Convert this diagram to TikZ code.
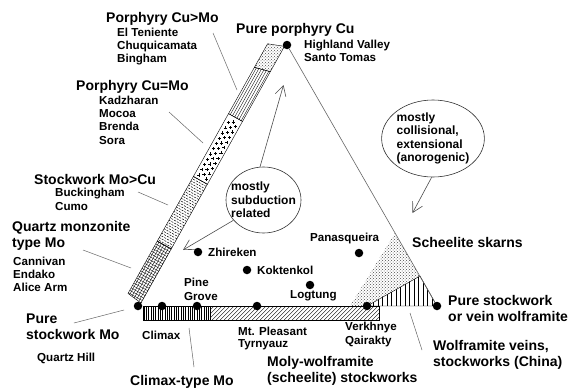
\documentclass[tikz,border=0pt]{standalone}
\usepackage{fontspec}
\setmainfont{Liberation Sans}
\usetikzlibrary{shapes.geometric,arrows.meta,patterns}

\tikzset{
  heading/.style={font=\fontsize{14}{15.5}\selectfont\bfseries,anchor=base west,inner sep=0pt,align=left},
  site/.style={font=\fontsize{11.6}{13.3}\selectfont\bfseries,anchor=base west,inner sep=0pt,align=left},
  deposit/.style={circle,fill=black,inner sep=0pt,minimum size=8.5pt},
  leader/.style={draw=black!60,line width=0.5pt},
  hint/.style={draw=black!70,line width=0.6pt,-{Straight Barb[length=10pt,width=11pt]}},
  bubble/.style={ellipse,draw=black!80,line width=0.6pt,font=\fontsize{12}{13.3}\selectfont\bfseries,align=left,inner sep=0pt},
  band/.style={draw=black,line width=0.4pt},
  hatch/.style={line width=0.35pt}
}

\begin{document}
\begin{tikzpicture}[x=1pt,y=-1pt]
\useasboundingbox[fill=white] (0,0) rectangle (578,388);

% band along the Cu-Mo side
\begin{scope}[shift={(141,303)},x={(0.488pt,0.873pt)},y={(-0.873pt,0.488pt)}]
  \begin{scope}
    \clip (0,0) -- (62,0) -- (62,16) -- (2,16) -- cycle;
    \foreach \t in {0,2.8,...,63} \draw[hatch] (\t,0) -- (\t,16);
    \foreach \s in {0,2.8,...,16} \draw[hatch] (0,\s) -- (62,\s);
  \end{scope}
  \begin{scope}
    \clip (62,0) -- (136,0) -- (136,16) -- (62,16) -- cycle;
    \foreach \t in {63.5,68.5,...,136} \draw[line width=0.5pt,dash pattern=on 2pt off 1.2pt] (\t,0) -- (\t,16);
    \foreach \t in {66,71,...,136} \draw[line width=0.5pt,dash pattern=on 2pt off 1.2pt,dash phase=1.6pt] (\t,0) -- (\t,16);
  \end{scope}
  \foreach \t in {140,146,...,205}
    \foreach \s in {3.5,12}
      \draw[line width=0.5pt] ([xshift=-1.6pt]\t,\s) -- ([xshift=1.6pt]\t,\s) ([yshift=-1.6pt]\t,\s) -- ([yshift=1.6pt]\t,\s);
  \foreach \t in {143,149,...,205}
    \draw[line width=0.5pt] ([xshift=-1.6pt]\t,7.75) -- ([xshift=1.6pt]\t,7.75) ([yshift=-1.6pt]\t,7.75) -- ([yshift=1.6pt]\t,7.75);
  \begin{scope}
    \clip (208,0) -- (265,0) -- (261,16) -- (208,16) -- cycle;
    \foreach \s in {1.5,4,...,16} \draw[hatch] (206,\s) -- (266,\s);
  \end{scope}
  \fill[pattern=crosshatch dots,pattern color=black!70] (265,0) -- (294,0) -- (288,16) -- (261,16) -- cycle;
  \draw[band] (0,0) -- (62,0) -- (62,16) -- (2,16) -- cycle;
  \draw[band] (62,0) -- (136,0) -- (136,16) -- (62,16) -- cycle;
  \draw[band] (136,0) -- (208,0) -- (208,16) -- (136,16) -- cycle;
  \draw[band] (208,0) -- (265,0) -- (261,16) -- (208,16) -- cycle;
  \draw[band] (265,0) -- (294,0) -- (288,16) -- (261,16) -- cycle;
\end{scope}

% band along the Mo-W side
\begin{scope}
  \clip (143,306) rectangle (210,320);
  \foreach \x in {144,146.3,...,210} \draw[hatch] (\x,306) -- (\x,320);
\end{scope}
\begin{scope}
  \clip (210,306) rectangle (379,320);
  \foreach \x in {196,200,...,380} \draw[hatch] (\x,320) -- (\x+14,306);
\end{scope}
\draw[band] (143,306) rectangle (210,320);
\draw[band] (210,306) rectangle (379,320);

% W corner
\fill[pattern=crosshatch dots,pattern color=black!70] (395,233) -- (350,306) -- (367,306) -- (420,276) -- cycle;
\begin{scope}
  \clip (367,306) -- (420,276) -- (437,306) -- cycle;
  \foreach \x in {369,373.5,...,437} \draw[line width=0.8pt] (\x,276) -- (\x,306);
\end{scope}
\draw[band] (367,306) -- (420,276) -- (437,306) -- cycle;

% deposits
\node[deposit] (cu) at (287,45) {};
\node[deposit] (mo) at (138,306) {};
\node[deposit] (w) at (437,306) {};
\node[deposit] (climax) at (162,306) {};
\node[deposit] (pine) at (197,306) {};
\node[deposit] (mtPleasant) at (257,306) {};
\node[deposit] (verkhnye) at (367,306) {};
\node[deposit] (zhireken) at (198,252) {};
\node[deposit] (koktenkol) at (247,270) {};
\node[deposit] (logtung) at (310,285) {};
\node[deposit] (panasqueira) at (359,253) {};
\draw[draw=black!60,line width=0.6pt] (cu) -- (w);

% labels (multi-line ones sit on their last line)
\node[heading] (cuGtMo) at (106,22) {Porphyry Cu>Mo};
\node[site] (cuGtMoSites) at (117,62.7) {El Teniente\\Chuquicamata\\Bingham};
\node[heading] (cuEqMo) at (76,90) {Porphyry Cu=Mo};
\node[site] (cuEqMoSites) at (99,144) {Kadzharan\\Mocoa\\Brenda\\Sora};
\node[heading] (moGtCu) at (34,184) {Stockwork Mo>Cu};
\node[site] (moGtCuSites) at (55,210) {Buckingham\\Cumo};
\node[heading] (qmMo) at (12,247) {Quartz monzonite\\type Mo};
\node[site] (qmMoSites) at (13,291.7) {Cannivan\\Endako\\Alice Arm};
\node[heading] (pureMo) at (26,339.3) {Pure\\stockwork Mo};
\node[site] (pureMoSite) at (37,361.7) {Quartz Hill};
\node[site] (climaxLbl) at (142,339) {Climax};
\node[heading] (climaxType) at (130,385) {Climax-type Mo};
\node[site] (pineLbl) at (184,300) {Pine\\Grove};
\node[site] (zhirekenLbl) at (208,256) {Zhireken};
\node[site] (koktenkolLbl) at (257,274) {Koktenkol};
\node[site] (logtungLbl) at (290,298) {Logtung};
\node[site] (panasLbl) at (310,241.7) {Panasqueira};
\node[site,font=\fontsize{11.6}{11.8}\selectfont\bfseries] (mtLbl) at (238,347) {Mt. Pleasant\\Tyrnyauz};
\node[site] (verkhLbl) at (345,344) {Verkhnye\\Qairakty};
\node[heading] (molyW) at (267,382) {Moly-wolframite\\(scheelite) stockworks};
\node[heading] (wVeins) at (433,366) {Wolframite veins,\\stockworks (China)};
\node[heading] (pureW) at (448,321) {Pure stockwork\\or vein wolframite};
\node[heading] (skarnLbl) at (412,247.3) {Scheelite skarns};
\node[heading] (pureCu) at (236,33.3) {Pure porphyry Cu};
\node[site] (pureCuSites) at (304,61.7) {Highland Valley\\Santo Tomas};

% settings
\node[bubble,inner xsep=-6pt,minimum width=75pt,minimum height=66pt] (subd) at (263.5,200) {mostly\\subduction\\related};
\node[bubble,minimum width=100pt,minimum height=77pt] (coll) at (433,138.5) {mostly\\collisional,\\extensional\\(anorogenic)};
\coordinate (upTip) at (283.5,85);
\coordinate (leftTip) at (183,250);
\coordinate (skarnTip) at (412.5,213);
\draw[hint] (subd.96) -- (upTip);
\draw[hint] (subd.214) -- (leftTip);
\draw[hint] (coll.268) -- (skarnTip);

% leaders
\coordinate (cuGtMoA) at (213,33);   \coordinate (cuGtMoB) at (237,90);
\coordinate (cuEqMoA) at (169,112);  \coordinate (cuEqMoB) at (203,143);
\coordinate (moGtCuA) at (138,192);  \coordinate (moGtCuB) at (168,205);
\coordinate (qmMoA) at (83,250);     \coordinate (qmMoB) at (131,268);
\coordinate (pureMoA) at (74,323);   \coordinate (pureMoB) at (124,310);
\coordinate (climaxA) at (189,328);  \coordinate (climaxB) at (194,367);
\coordinate (wVeinsA) at (410,313);  \coordinate (wVeinsB) at (422,350);
\draw[leader] (cuGtMoA) -- (cuGtMoB);
\draw[leader] (cuEqMoA) -- (cuEqMoB);
\draw[leader] (moGtCuA) -- (moGtCuB);
\draw[leader] (qmMoA) -- (qmMoB);
\draw[leader] (pureMoA) -- (pureMoB);
\draw[leader] (climaxA) -- (climaxB);
\draw[leader] (wVeinsA) -- (wVeinsB);
\end{tikzpicture}
\end{document}
